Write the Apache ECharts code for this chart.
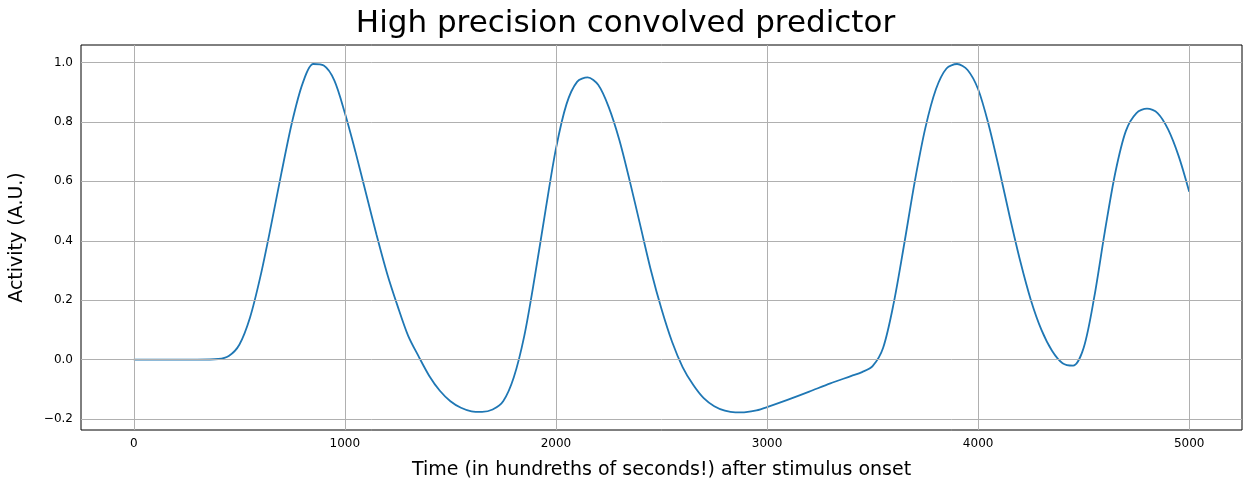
<!DOCTYPE html>
<html>
<head>
<meta charset="utf-8">
<script src="https://cdn.jsdelivr.net/npm/echarts@6/dist/echarts.min.js"></script>
<style>html,body{margin:0;padding:0;background:#fff}#chart{width:1251px;height:489px}</style>
</head>
<body>
<div id="chart"></div>
<script>
const times = [0,100,200,300,400,450,500,550,600,650,700,750,800,850,900,950,1000,1050,1100,1150,1200,1250,1300,1350,1400,1450,1500,1550,1600,1650,1700,1750,1800,1850,1900,1950,2000,2050,2100,2150,2200,2250,2300,2350,2400,2450,2500,2550,2600,2650,2700,2750,2800,2850,2900,2950,3000,3100,3200,3300,3400,3450,3500,3550,3600,3650,3700,3750,3800,3850,3900,3950,4000,4050,4100,4150,4200,4250,4300,4350,4400,4450,4500,4550,4600,4650,4700,4750,4800,4850,4900,4950,5000];
const activity = [0,0,0,0,0.002,0.012,0.05,0.14,0.28,0.45,0.63,0.80,0.93,0.995,0.99,0.94,0.83,0.70,0.56,0.42,0.29,0.18,0.08,0.01,-0.055,-0.105,-0.14,-0.162,-0.174,-0.176,-0.168,-0.14,-0.06,0.08,0.28,0.50,0.71,0.86,0.935,0.95,0.925,0.85,0.74,0.60,0.45,0.30,0.17,0.06,-0.025,-0.085,-0.13,-0.157,-0.172,-0.178,-0.177,-0.171,-0.16,-0.135,-0.108,-0.08,-0.055,-0.042,-0.022,0.04,0.19,0.39,0.60,0.78,0.91,0.98,0.995,0.975,0.91,0.79,0.64,0.48,0.33,0.2,0.1,0.03,-0.012,-0.02,0.04,0.21,0.43,0.63,0.77,0.83,0.845,0.83,0.775,0.685,0.565];
const xTicks = [0,1000,2000,3000,4000,5000];
const yTicks = [-0.2,0,0.2,0.4,0.6,0.8,1.0];

const chart = echarts.init(document.getElementById('chart'));
chart.setOption({
    animation:false,
    title:{text:'High precision convolved predictor',left:'center',top:3,textStyle:{fontSize:31,fontWeight:'normal',color:'#000',fontFamily:'DejaVu Sans'}},
    grid:{left:79,right:9,top:45,bottom:59,show:true,borderColor:'#000',borderWidth:1},
    xAxis:{type:'value',min:-250,max:5250,
        name:'Time (in hundreths of seconds!) after stimulus onset',nameLocation:'middle',nameGap:31,
        nameTextStyle:{fontSize:19,color:'#000',fontFamily:'DejaVu Sans'},
        axisLine:{show:false},
        axisTick:{show:true,length:4,customValues:xTicks,lineStyle:{color:'#000'}},
        axisLabel:{customValues:xTicks,color:'#000',fontSize:12,fontFamily:'DejaVu Sans',formatter:v=>String(v)},
        splitLine:{show:false}},
    yAxis:{type:'value',min:-0.237,max:1.059,
        name:'Activity (A.U.)',nameLocation:'middle',nameGap:54,
        nameTextStyle:{fontSize:19,color:'#000',fontFamily:'DejaVu Sans'},
        axisLine:{show:false},
        axisTick:{show:true,length:4,customValues:yTicks,lineStyle:{color:'#000'}},
        axisLabel:{customValues:yTicks,color:'#000',fontSize:12,fontFamily:'DejaVu Sans',
            formatter:v=>v.toFixed(1).replace('-','\u2212')},
        splitLine:{show:false}},
    series:[
        {type:'line',data:times.map((t,i)=>[t,activity[i]]),smooth:0.3,showSymbol:false,
         lineStyle:{color:'#1f77b4',width:1.8},z:3,
         markLine:{silent:true,symbol:'none',label:{show:false},lineStyle:{color:'#b0b0b0',type:'solid',width:1},
            data:xTicks.map(v=>({xAxis:v})).concat(yTicks.map(v=>({yAxis:v})))}}
    ]
});
</script>
</body>
</html>
